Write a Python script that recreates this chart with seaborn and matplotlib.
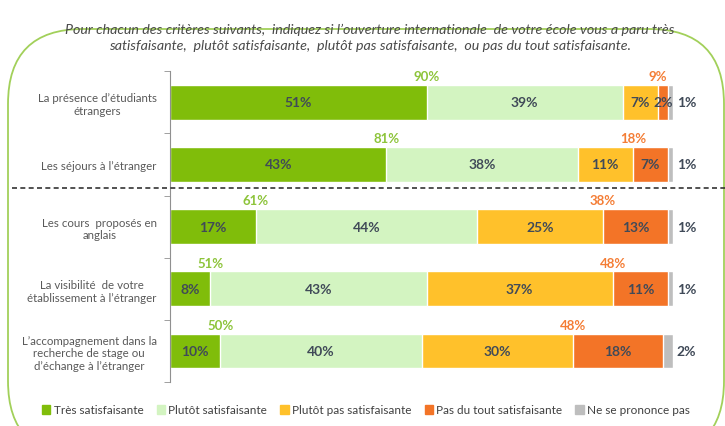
import numpy as np
import pandas as pd
import matplotlib.pyplot as plt
import seaborn as sns
from matplotlib.patches import FancyBboxPatch
from matplotlib.lines import Line2D

# données
categories = ["La présence d’étudiants\nétrangers",
              "Les séjours à l’étranger",
              "Les cours  proposés en\nanglais",
              "La visibilité  de votre\nétablissement à l’étranger",
              "L’accompagnement dans la\nrecherche de stage ou\nd’échange à l’étranger"]
tres_satisf = [51, 43, 17, 8, 10]
plutot_satisf = [39, 38, 44, 43, 40]
plutot_pas = [7, 11, 25, 37, 30]
pas_du_tout = [2, 7, 13, 11, 18]
ne_se_prononce = [1, 1, 1, 1, 2]
total_satisf = [90, 81, 61, 51, 50]
total_insatisf = [9, 18, 38, 48, 48]

series_names = ["Très satisfaisante", "Plutôt satisfaisante", "Plutôt pas satisfaisante",
                "Pas du tout satisfaisante", "Ne se prononce pas"]
colors = ["#80BD0A", "#D3F4C1", "#FFC12B", "#F37427", "#BEBEBE"]
title = ("Pour chacun des critères suivants,  indiquez si l’ouverture internationale  de votre école vous a paru très\n"
         "satisfaisante,  plutôt satisfaisante,  plutôt pas satisfaisante,  ou pas du tout satisfaisante.")

df = pd.DataFrame(dict(zip(series_names, [tres_satisf, plutot_satisf, plutot_pas, pas_du_tout, ne_se_prononce])),
                  index=categories)
cum = df.cumsum(axis=1)

sns.set_style('white')
plt.rcParams['font.family'] = ['Lato', 'DejaVu Sans']

fig = plt.figure(figsize=(7.25, 4.27), dpi=100)
ax = fig.add_axes([0.2345, 0.103, 0.694, 0.728])

# barres empilées : cumul du plus long au plus court
for name, color in reversed(list(zip(series_names, colors))):
    sns.barplot(x=cum[name].values, y=categories, color=color, orient='h',
                width=0.56, saturation=1, ax=ax, label=name)

txt_color = "#404A58"
for i, cat in enumerate(categories):
    for j, name in enumerate(series_names[:4]):
        v = df.loc[cat, name]
        ax.text(cum.loc[cat, name] - v / 2, i, f"{v}%", ha='center', va='center',
                fontsize=10, fontweight='bold', color=txt_color)
    ax.text(100.7, i, f"{ne_se_prononce[i]}%", ha='left', va='center',
            fontsize=10, fontweight='bold', color=txt_color)
    ax.annotate(f"{total_satisf[i]}%", (tres_satisf[i], i - 0.28), xytext=(0, 2),
                textcoords='offset points', ha='center', va='bottom',
                fontsize=9.5, fontweight='bold', color="#8DC43A")
    start = tres_satisf[i] + plutot_satisf[i] + plutot_pas[i]
    ax.annotate(f"{total_insatisf[i]}%", (start, i - 0.28), xytext=(0, 2),
                textcoords='offset points', ha='center', va='bottom',
                fontsize=9.5, fontweight='bold', color="#F47D35")

ax.set_xlim(0, 100)
ax.set_xlabel('')
ax.set_ylabel('')
ax.set_xticks([])
for s in ['top', 'right', 'bottom']:
    ax.spines[s].set_visible(False)
ax.spines['left'].set_color('#909090')
ax.set_yticks(np.arange(len(categories)))
ax.set_yticklabels(categories, multialignment='center')
ax.set_yticks(np.arange(len(categories) + 1) - 0.5, minor=True)
ax.tick_params(axis='y', which='major', length=0, pad=9.5, labelsize=8.3, labelcolor='#595959')
ax.tick_params(axis='y', which='minor', length=4, color='#909090', direction='out', left=True)
if ax.legend_:
    ax.legend_.remove()

# ligne pointillée de séparation
fig.add_artist(Line2D([0.017, 1.0], [1 - 189 / 427, 1 - 189 / 427], transform=fig.transFigure,
                      color='#333333', linewidth=1.2, linestyle=(0, (3, 2))))

# cadre arrondi
fig.add_artist(FancyBboxPatch((0.08, -0.3), 7.16, 4.42 - 0.15,
                              boxstyle="round,pad=0,rounding_size=0.75",
                              transform=fig.dpi_scale_trans, fill=False,
                              edgecolor='#A2D05A', linewidth=1.3))

fig.text(0.51, 1 - 38 / 427, title, ha='center', va='center', fontsize=10.3,
         style='italic', color='#4A4A4A', linespacing=1.45)

handles = [plt.Rectangle((0, 0), 1, 1, color=c) for c in colors]
fig.legend(handles, series_names, loc='center', bbox_to_anchor=(0.505, 1 - 411 / 427), ncol=5,
           frameon=False, fontsize=8.5, handlelength=0.7, handleheight=0.7,
           handletextpad=0.3, columnspacing=1.1, labelcolor='#404040')

fig.savefig('out.png', dpi=100)
